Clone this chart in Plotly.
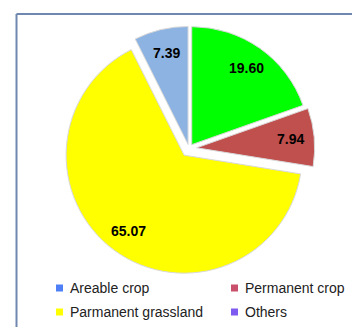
import math
import plotly.graph_objects as go

categories = ["Areable crop", "Permanent crop", "Parmanent grassland", "Others"]
values = [19.60, 7.94, 65.07, 7.39]
slice_colors = ["#00ff00", "#c0504d", "#ffff00", "#8db3e2"]
legend_colors = ["#4f7ff7", "#c8506a", "#ffff00", "#7f5af0"]
pulls = [0.04, 0.065, 0.07, 0.035]

W, H = 352, 327
# pie geometry (pixels)
CX, CY, R = 189.0, 148.5, 118.0
LABEL_FRAC = 0.80
half = R * (1 + max(pulls))
dom_x = [(CX - half) / W, (CX + half) / W]
dom_y = [1 - (CY + half) / H, 1 - (CY - half) / H]

fig = go.Figure()
fig.add_trace(go.Pie(
    labels=categories,
    values=values,
    sort=False,
    direction="clockwise",
    rotation=0,
    pull=pulls,
    marker=dict(colors=slice_colors, line=dict(color="#d9d9d9", width=1)),
    textinfo="none",
    showlegend=False,
    domain=dict(x=dom_x, y=dom_y),
    hoverinfo="label+value",
))

annotations = []
# data labels positioned along each slice's bisector
total = sum(values)
cum = 0.0
for v, p in zip(values, pulls):
    mid = (cum + v / 2) / total * 2 * math.pi
    cum += v
    dist = R * (p + LABEL_FRAC)
    px = CX + dist * math.sin(mid)
    py = CY - dist * math.cos(mid)
    annotations.append(dict(text=f"<b>{v:.2f}</b>", xref="paper", yref="paper",
                            x=px / W, y=1 - py / H, xanchor="center", yanchor="middle",
                            showarrow=False,
                            font=dict(family="Liberation Sans, Arial, sans-serif", size=14, color="black")))

# legend (colors differ from slices in the original)
leg_x = [56, 231, 56, 231]
leg_y = [288, 288, 312, 312]
shapes = [
    dict(type="line", xref="paper", yref="paper", x0=16.5 / W, x1=1.0, y0=1 - 14 / H, y1=1 - 14 / H,
         line=dict(color="#7088b0", width=2)),
    dict(type="line", xref="paper", yref="paper", x0=16.5 / W, x1=16.5 / W, y0=1 - 14 / H, y1=0,
         line=dict(color="#7088b0", width=2)),
]
for name, col, lx, ly in zip(categories, legend_colors, leg_x, leg_y):
    shapes.append(dict(type="rect", xref="paper", yref="paper",
                       x0=lx / W, x1=(lx + 7) / W, y0=1 - (ly + 3.5) / H, y1=1 - (ly - 3.5) / H,
                       fillcolor=col, line=dict(width=0)))
    annotations.append(dict(text=name, xref="paper", yref="paper", x=(lx + 12) / W, y=1 - ly / H,
                            xanchor="left", yanchor="middle", showarrow=False,
                            font=dict(family="Liberation Sans, Arial, sans-serif", size=14, color="#222222")))

fig.update_layout(
    width=W, height=H,
    margin=dict(l=0, r=0, t=0, b=0),
    paper_bgcolor="white",
    plot_bgcolor="white",
    shapes=shapes,
    annotations=annotations,
)

fig.write_html("out.html")
